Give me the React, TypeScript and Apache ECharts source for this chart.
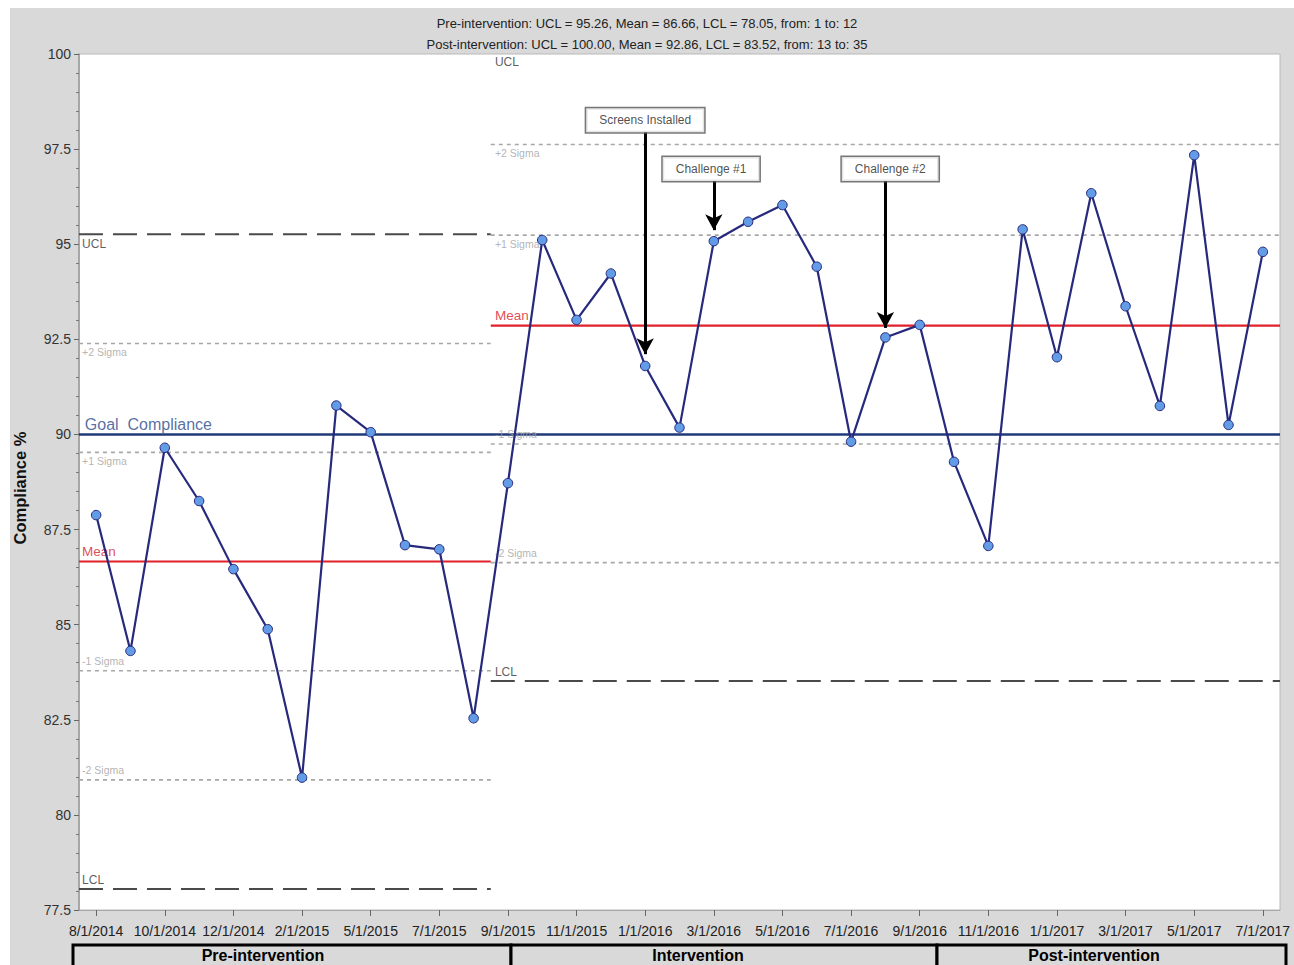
import React, { useEffect, useRef } from "react";
import * as echarts from "echarts";

const categories = [
  "8/1/2014", "9/1/2014", "10/1/2014", "11/1/2014", "12/1/2014", "1/1/2015", "2/1/2015",
  "3/1/2015", "5/1/2015", "6/1/2015", "7/1/2015", "8/1/2015", "9/1/2015", "10/1/2015",
  "11/1/2015", "12/1/2015", "1/1/2016", "2/1/2016", "3/1/2016", "4/1/2016", "5/1/2016",
  "6/1/2016", "7/1/2016", "8/1/2016", "9/1/2016", "10/1/2016", "11/1/2016", "12/1/2016",
  "1/1/2017", "2/1/2017", "3/1/2017", "4/1/2017", "5/1/2017", "6/1/2017", "7/1/2017",
];

const compliance = [
  87.88, 84.31, 89.65, 88.25, 86.46, 84.88, 80.98, 90.76, 90.06, 87.09, 86.98, 82.54,
  88.72, 95.11, 93.01, 94.23, 91.8, 90.18, 95.08, 95.59, 96.03, 94.41, 89.81, 92.55,
  92.88, 89.28, 87.07, 95.39, 92.03, 96.34, 93.37, 90.75, 97.34, 90.25, 94.8,
];

// phase segments (position in points, half-point boundaries)
const phaseStart = [0.5, 12.5];
const phaseEnd = [12.5, 35.5];
const uclValues = [95.26, 100.0];
const meanValues = [86.66, 92.86];
const lclValues = [78.05, 83.52];
const plus2Sigma = [92.39, 97.62];
const plus1Sigma = [89.53, 95.24];
const minus1Sigma = [83.79, 89.75];
const minus2Sigma = [80.92, 86.63];
const goalValue = 90;

const titleLines = [
  "Pre-intervention: UCL = 95.26, Mean = 86.66, LCL = 78.05, from: 1 to: 12",
  "Post-intervention: UCL = 100.00, Mean = 92.86, LCL = 83.52, from: 13 to: 35",
];

const phaseLabels = ["Pre-intervention", "Intervention", "Post-intervention"];

const annotations = [
  { text: "Screens Installed", boxX: 17.0, boxY: 98.26, arrowX: 17, from: 97.95, to: 92.11 },
  { text: "Challenge #1", boxX: 18.92, boxY: 96.98, arrowX: 19, from: 96.66, to: 95.37 },
  { text: "Challenge #2", boxX: 24.14, boxY: 96.98, arrowX: 24, from: 96.66, to: 92.8 },
];

const FONT = "Liberation Sans, Arial, sans-serif";

function segSeries(name: string, values: number[], color: string, width: number, type: any) {
  return values
    .map((v, i) => ({
      name: name + i,
      type: "line",
      xAxisIndex: 1,
      yAxisIndex: 0,
      data: [
        [phaseStart[i], v],
        [phaseEnd[i], v],
      ],
      symbol: "none",
      silent: true,
      z: 2,
      lineStyle: { color, width, type },
    }))
    .filter((s, i) => values[i] < 100);
}

export default function App() {
  const ref = useRef<HTMLDivElement>(null);

  useEffect(() => {
    if (!ref.current) return;
    const chart = echarts.init(ref.current, undefined, { renderer: "svg" });

    const labelItems: any[] = [];
    const addLabel = (x: number, y: number, text: string, above: boolean, color: string, fontSize: number, dy: number) => {
      labelItems.push({
        value: [x, y],
        label: {
          show: true,
          formatter: text,
          position: [0, above ? -dy : dy],
          align: "left",
          verticalAlign: above ? "bottom" : "top",
          color,
          fontSize,
          fontFamily: FONT,
        },
      });
    };
    for (let i = 0; i < 2; i++) {
      const x0 = phaseStart[i] + (i === 0 ? 0.09 : 0.12);
      addLabel(x0, uclValues[i], "UCL", false, "#333", 12, i === 0 ? 4 : 2);
      addLabel(x0, plus2Sigma[i], "+2 Sigma", false, "#a0a0a0", 10.5, 3);
      addLabel(x0, plus1Sigma[i], "+1 Sigma", false, "#a0a0a0", 10.5, 3);
      addLabel(x0, meanValues[i], "Mean", true, "#d9202a", 13.5, 3);
      addLabel(x0, minus1Sigma[i], "-1 Sigma", true, "#a0a0a0", 10.5, 4);
      addLabel(x0, minus2Sigma[i], "-2 Sigma", true, "#a0a0a0", 10.5, 4);
      addLabel(x0, lclValues[i], "LCL", true, "#333", 12, 3);
    }
    labelItems.push({
      value: [0.5 + 0.17, goalValue],
      label: {
        show: true,
        formatter: "Goal  Compliance",
        position: [0, -2],
        align: "left",
        verticalAlign: "bottom",
        color: "#2b4a8c",
        fontSize: 16,
        fontFamily: FONT,
      },
    });

    const option: any = {
      animation: false,
      backgroundColor: "#ffffff",
      title: {
        text: titleLines.join("\n"),
        left: "center",
        top: 8,
        textStyle: {
          fontSize: 13,
          fontWeight: "normal",
          color: "#222",
          lineHeight: 21,
          fontFamily: FONT,
        },
      },
      grid: {
        left: 79,
        right: 14,
        top: 54,
        bottom: 55,
        show: true,
        backgroundColor: "#ffffff",
        borderColor: "#b8b8b8",
        borderWidth: 1,
      },
      xAxis: [
        {
          type: "category",
          data: categories,
          boundaryGap: true,
          axisLine: { show: true, lineStyle: { color: "#a8a8a8", width: 1 } },
          axisTick: {
            show: true,
            alignWithLabel: true,
            interval: 1,
            length: 6,
            lineStyle: { color: "#666" },
          },
          axisLabel: {
            interval: 1,
            fontSize: 14,
            color: "#222",
            margin: 14,
            fontFamily: FONT,
          },
          splitLine: { show: false },
        },
        {
          type: "value",
          min: 0.5,
          max: 35.5,
          show: false,
          splitLine: { show: false },
        },
      ],
      yAxis: {
        type: "value",
        min: 77.5,
        max: 100,
        interval: 2.5,
        axisLine: { show: true, lineStyle: { color: "#999", width: 1.5 } },
        axisTick: { show: true, length: 5, lineStyle: { color: "#666" } },
        minorTick: { show: true, splitNumber: 5, length: 3, lineStyle: { color: "#777" } },
        axisLabel: { fontSize: 14, color: "#333", margin: 8, fontFamily: FONT },
        splitLine: { show: false },
      },
      graphic: [
        {
          type: "rect",
          z: -100,
          silent: true,
          shape: { x: 10, y: 8, width: 1284, height: 957 },
          style: { fill: "#d9d9d9" },
        },
        {
          type: "text",
          x: 20,
          y: 488,
          rotation: Math.PI / 2,
          silent: true,
          style: {
            text: "Compliance %",
            fontSize: 16.5,
            fontWeight: "bold",
            fontFamily: FONT,
            fill: "#111",
            textAlign: "center",
            textVerticalAlign: "middle",
          },
        },
        {
          type: "rect",
          silent: true,
          shape: { x: 73, y: 945, width: 438, height: 32 },
          style: { fill: "#d9d9d9", stroke: "#000", lineWidth: 3 },
        },
        {
          type: "rect",
          silent: true,
          shape: { x: 511, y: 945, width: 426, height: 32 },
          style: { fill: "#d9d9d9", stroke: "#000", lineWidth: 3 },
        },
        {
          type: "rect",
          silent: true,
          shape: { x: 937, y: 945, width: 349, height: 32 },
          style: { fill: "#d9d9d9", stroke: "#000", lineWidth: 3 },
        },
        ...phaseLabels.map((t, i) => ({
          type: "text",
          x: [263, 698, 1094][i],
          y: 955,
          silent: true,
          style: {
            text: t,
            fontSize: 16,
            fontWeight: "bold",
            fontFamily: FONT,
            fill: "#000",
            textAlign: "center",
            textVerticalAlign: "middle",
          },
        })),
      ],
      series: [
        ...segSeries("ucl", uclValues, "#4a4a4a", 2, [24, 10]),
        ...segSeries("lcl", lclValues, "#4a4a4a", 2, [24, 10]),
        ...segSeries("p2", plus2Sigma, "#a8a8a8", 1.6, [4, 4]),
        ...segSeries("p1", plus1Sigma, "#a8a8a8", 1.6, [4, 4]),
        ...segSeries("m1", minus1Sigma, "#a8a8a8", 1.6, [4, 4]),
        ...segSeries("m2", minus2Sigma, "#a8a8a8", 1.6, [4, 4]),
        ...segSeries("mean", meanValues, "#e0202a", 2.2, "solid"),
        {
          name: "goal",
          type: "line",
          xAxisIndex: 1,
          data: [
            [0.5, goalValue],
            [35.5, goalValue],
          ],
          symbol: "none",
          silent: true,
          z: 3,
          lineStyle: { color: "#1f3a7a", width: 2.5 },
        },
        {
          name: "labels",
          type: "scatter",
          xAxisIndex: 1,
          data: labelItems,
          symbolSize: 0,
          silent: true,
          z: 4,
          itemStyle: { color: "transparent" },
        },
        {
          name: "Compliance",
          type: "line",
          xAxisIndex: 0,
          data: compliance,
          symbol: "circle",
          symbolSize: 9.5,
          showAllSymbol: true,
          z: 5,
          lineStyle: { color: "#272a7c", width: 2.2 },
          itemStyle: { color: "#629be6", borderColor: "#272a7c", borderWidth: 1 },
        },
        {
          name: "annotations",
          type: "scatter",
          xAxisIndex: 1,
          symbolSize: 0,
          silent: true,
          z: 6,
          itemStyle: { color: "transparent" },
          data: annotations.map((a) => ({
            value: [a.boxX, a.boxY],
            label: {
              show: true,
              position: "inside",
              formatter: a.text,
              fontSize: 12,
              fontFamily: FONT,
              color: "#222",
              backgroundColor: "#ffffff",
              borderColor: "#555",
              borderWidth: 1.5,
              padding: [5, 13, 5, 13],
              lineHeight: 14,
            },
          })),
          markLine: {
            silent: true,
            symbol: ["none", "arrow"],
            symbolSize: [13, 16],
            label: { show: false },
            lineStyle: { color: "#000", width: 3, type: "solid" },
            data: annotations.map((a) => [
              { coord: [a.arrowX, a.from] },
              { coord: [a.arrowX, a.to] },
            ]),
          },
        },
      ],
    };

    chart.setOption(option);
    return () => chart.dispose();
  }, []);

  return (
    <div
      ref={ref}
      style={{ position: "absolute", left: 0, top: 0, width: 1294, height: 965 }}
    />
  );
}
